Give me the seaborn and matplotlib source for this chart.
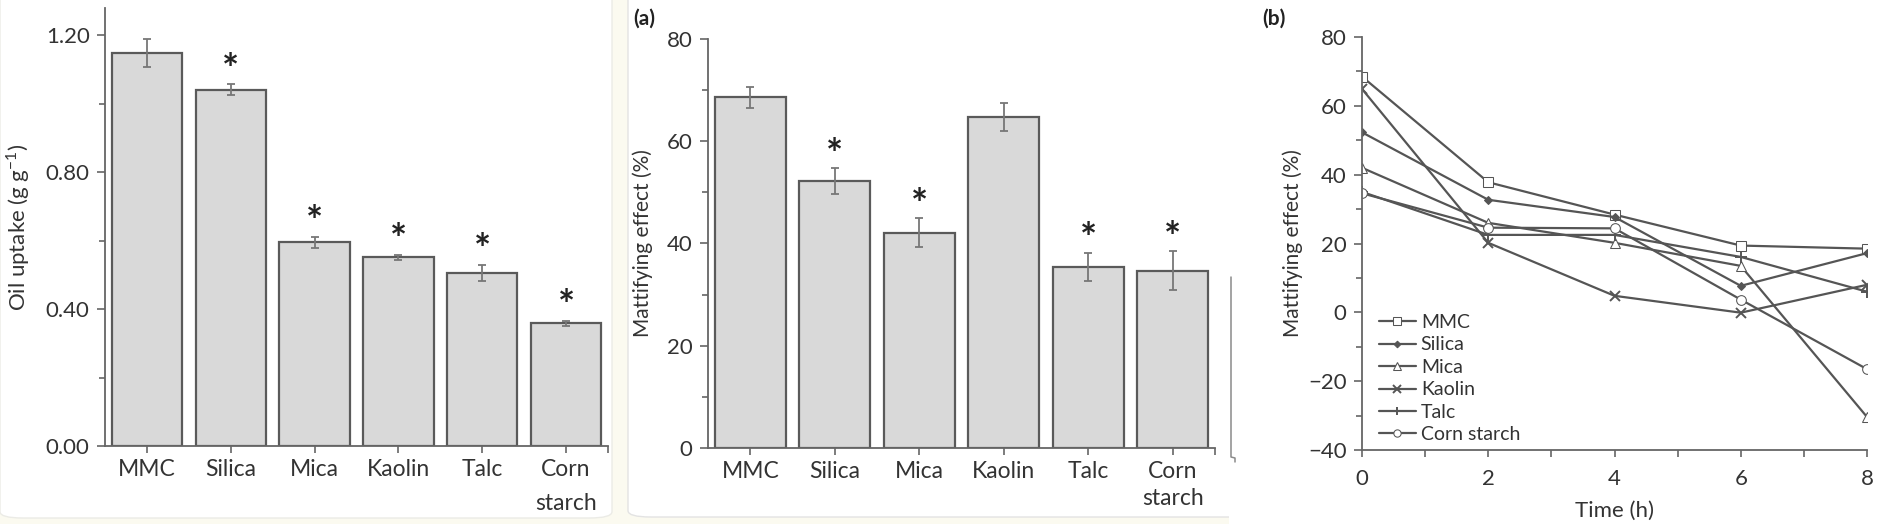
import numpy as np
import pandas as pd
import matplotlib
matplotlib.use("Agg")
import matplotlib.pyplot as plt
import seaborn as sns
from matplotlib.patches import Rectangle, FancyBboxPatch
from matplotlib.lines import Line2D
from matplotlib.ticker import MultipleLocator, FormatStrFormatter, FixedLocator

# ---- data ----
categories = ["MMC", "Silica", "Mica", "Kaolin", "Talc", "Corn starch"]
tick_names = ["MMC", "Silica", "Mica", "Kaolin", "Talc", "Corn\nstarch"]

oil_uptake = [1.148, 1.041, 0.595, 0.551, 0.505, 0.359]
oil_err = [0.041, 0.016, 0.017, 0.008, 0.024, 0.007]
oil_sig = [False, True, True, True, True, True]

matt_effect = [68.6, 52.2, 42.1, 64.8, 35.4, 34.7]
matt_err = [2.0, 2.5, 2.8, 2.7, 2.8, 3.75]
matt_sig = [False, True, True, False, True, True]

times = [0, 2, 4, 6, 8]
mmc_t = [68.5, 37.8, 28.4, 19.4, 18.5]
silica_t = [52.3, 32.7, 27.7, 7.7, 17.2]
mica_t = [42.0, 26.0, 20.2, 13.5, -30.4]
kaolin_t = [64.9, 20.2, 4.8, -0.1, 8.0]
talc_t = [35.0, 22.5, 22.5, 16.1, 6.0]
corn_t = [34.6, 24.6, 24.4, 3.7, -16.5]

# ---- style ----
sns.set_style("ticks")
plt.rcParams['font.family'] = ['Lato', 'DejaVu Sans']
plt.rcParams['mathtext.fontset'] = 'custom'
plt.rcParams['mathtext.rm'] = 'Lato'
plt.rcParams['axes.unicode_minus'] = True

txt_col = "#333333"
axis_col = "#666666"
bar_fill = "#d9d9d9"
bar_edge = "#5a5a5a"
err_col = "#777777"
line_col = "#555555"
cream = "#fbfaf0"

W, H = 1892, 524
fig = plt.figure(figsize=(W / 100, H / 100), dpi=100)
fig.patch.set_facecolor("white")


def frac(l, t, r, b):
    return [l / W, 1 - b / H, (r - l) / W, (b - t) / H]


# background panels like the composed figure
fig.patches.append(Rectangle((0, 0), 1, 1, transform=fig.transFigure,
                             facecolor=cream, edgecolor="none", zorder=-10))
fig.patches.append(FancyBboxPatch((0, 1 - 518 / H), 612 / W, 530 / H,
                                  boxstyle="round,pad=0,rounding_size=0.012",
                                  transform=fig.transFigure, facecolor="white",
                                  edgecolor="#ebebe6", lw=1, zorder=-9))
fig.patches.append(FancyBboxPatch((628 / W, 1 - 517 / H), 680 / W, 530 / H,
                                  boxstyle="round,pad=0,rounding_size=0.012",
                                  transform=fig.transFigure, facecolor="white",
                                  edgecolor="#e3e3e3", lw=1, zorder=-9))
fig.patches.append(Rectangle((1229 / W, 0), 1 - 1229 / W, 1, transform=fig.transFigure,
                             facecolor="white", edgecolor="none", zorder=-8))


def style_axes(ax):
    sns.despine(ax=ax)
    ax.set_facecolor("none")
    for s in ["left", "bottom"]:
        ax.spines[s].set_color(axis_col)
        ax.spines[s].set_linewidth(1.3)
    ax.tick_params(axis="both", which="both", direction="out", color=axis_col,
                   width=1.2, labelcolor=txt_col, labelsize=16)
    ax.tick_params(axis="y", which="major", length=6, pad=5)
    ax.tick_params(axis="y", which="minor", length=4)


def bar_panel(ax, values, errs, sig, ymax, major, minor, star_off, fmt, linesp):
    df = pd.DataFrame({"material": categories, "value": values})
    sns.barplot(data=df, x="material", y="value", color=bar_fill, edgecolor=bar_edge,
                linewidth=1.6, width=0.84, saturation=1, errorbar=None, ax=ax)
    ax.errorbar(np.arange(len(values)), values, yerr=errs, fmt="none", ecolor=err_col,
                elinewidth=1.3, capsize=3.2, capthick=1.3)
    for i, (v, e, s) in enumerate(zip(values, errs, sig)):
        if s:
            ax.text(i, v + e + star_off, "*", ha="center", va="center",
                    fontsize=29, fontweight="bold", color="#222222")
    style_axes(ax)
    ax.set_xlim(-0.5, len(values) - 0.5)
    ax.set_ylim(0, ymax)
    ax.yaxis.set_major_locator(MultipleLocator(major))
    ax.yaxis.set_minor_locator(MultipleLocator(minor))
    if fmt:
        ax.yaxis.set_major_formatter(FormatStrFormatter(fmt))
    ax.xaxis.set_minor_locator(FixedLocator([len(values) - 0.5]))
    ax.tick_params(axis="x", which="both", length=5, pad=4)
    ax.set_xlabel("")
    ax.set_xticks(np.arange(len(values)))
    ax.set_xticklabels(tick_names, fontsize=16.5, linespacing=linesp,
                       multialignment="center", ha="center")


# ---- panel 1: oil uptake ----
ax1 = fig.add_axes(frac(105, 8, 608, 446))
bar_panel(ax1, oil_uptake, oil_err, oil_sig, 1.28, 0.4, 0.2, 0.038, "%.2f", 1.8)
ax1.set_ylabel("Oil uptake (g g$^{\\mathregular{-1}}$)", fontsize=16, color=txt_col, labelpad=10)

# ---- panel 2: mattifying effect bars ----
ax2 = fig.add_axes(frac(708, 39, 1215, 448))
bar_panel(ax2, matt_effect, matt_err, matt_sig, 80, 20, 10, 2.4, None, 1.4)
ax2.set_ylabel("Mattifying effect (%)", fontsize=15, color=txt_col, labelpad=10)
fig.text(633 / W, 1 - 19 / H, "(a)", fontsize=15, fontweight="bold", color="#222222", va="center")

# stray axis fragment at the right of panel (a)
fig.add_artist(Line2D(np.array([1231, 1231, 1235, 1235]) / W,
                      1 - np.array([277, 457, 458, 462]) / H,
                      transform=fig.transFigure, color="#8a8a8a", lw=1.1))

# ---- panel 3: time course ----
ax3 = fig.add_axes(frac(1362, 37, 1867, 450))
series = [
    ("MMC", mmc_t, dict(marker="s", markersize=7, markerfacecolor="white")),
    ("Silica", silica_t, dict(marker="D", markersize=4.5, markerfacecolor=line_col)),
    ("Mica", mica_t, dict(marker="^", markersize=7, markerfacecolor="white")),
    ("Kaolin", kaolin_t, dict(marker="x", markersize=7, markeredgewidth=1.4)),
    ("Talc", talc_t, dict(marker="+", markersize=8, markeredgewidth=1.4)),
    ("Corn starch", corn_t, dict(marker="o", markersize=7, markerfacecolor="white")),
]
for name, vals, mk in series:
    sns.lineplot(x=times, y=vals, ax=ax3, color=line_col, linewidth=1.6,
                 markeredgecolor=line_col, label=name, **mk)
style_axes(ax3)
ax3.set_xlim(0, 8)
ax3.set_ylim(-40, 80)
ax3.yaxis.set_major_locator(MultipleLocator(20))
ax3.yaxis.set_minor_locator(MultipleLocator(10))
ax3.xaxis.set_major_locator(MultipleLocator(2))
ax3.xaxis.set_minor_locator(MultipleLocator(1))
ax3.tick_params(axis="x", which="both", length=5, pad=9)
ax3.set_xlabel("Time (h)", fontsize=16, color=txt_col, labelpad=8)
ax3.set_ylabel("Mattifying effect (%)", fontsize=15, color=txt_col, labelpad=4)
handles, labels = ax3.get_legend_handles_labels()
ax3.legend(handles, labels, loc="upper left", bbox_to_anchor=(1379 / W, 1 - 314 / H),
           bbox_transform=fig.transFigure, frameon=False, fontsize=14,
           handlelength=1.9, handletextpad=0.25, labelspacing=0.28,
           borderpad=0, borderaxespad=0, markerscale=0.75, labelcolor=txt_col)
fig.text(1262 / W, 1 - 19 / H, "(b)", fontsize=15, fontweight="bold", color="#222222", va="center")

fig.savefig("out.png", dpi=100, facecolor=fig.get_facecolor())
